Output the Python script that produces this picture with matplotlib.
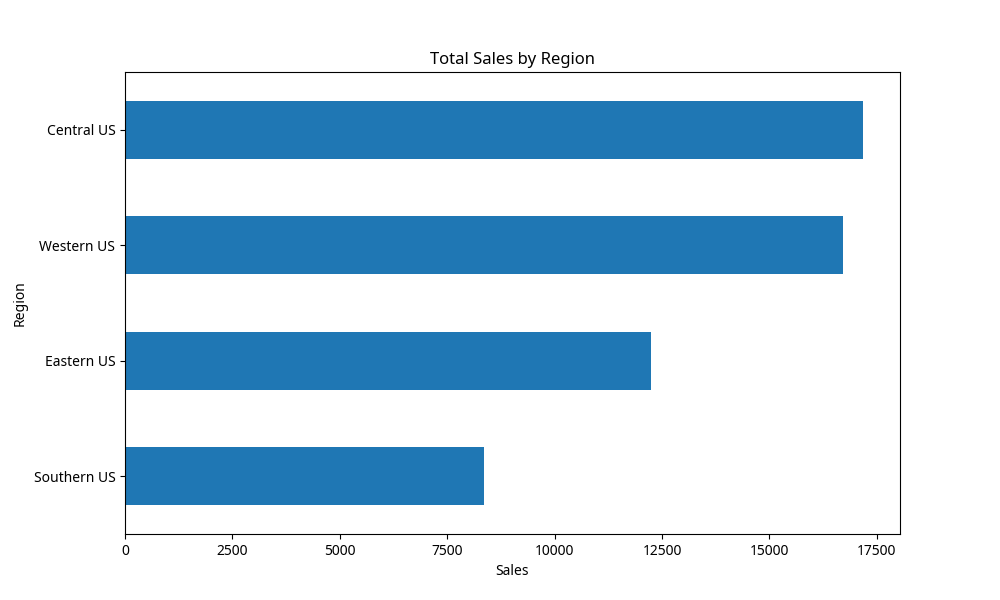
import matplotlib
matplotlib.use("Agg")
import matplotlib.pyplot as plt
import pandas as pd

plt.rcParams['font.family'] = ['Noto Sans', 'DejaVu Sans']

regions = ['Southern US', 'Eastern US', 'Western US', 'Central US']
sales = [8360, 12240, 16710, 17180]


def main():
    data = pd.Series(sales, index=regions, name='Sales')
    data.index.name = 'Region'

    fig, ax = plt.subplots(figsize=(10, 6), dpi=100)
    data.plot(kind='barh', ax=ax, color='#1f77b4')
    ax.set_title('Total Sales by Region')
    ax.set_xlabel('Sales')
    ax.set_ylabel('Region')
    fig.savefig('out.png', dpi=100)


if __name__ == "__main__":
    main()
